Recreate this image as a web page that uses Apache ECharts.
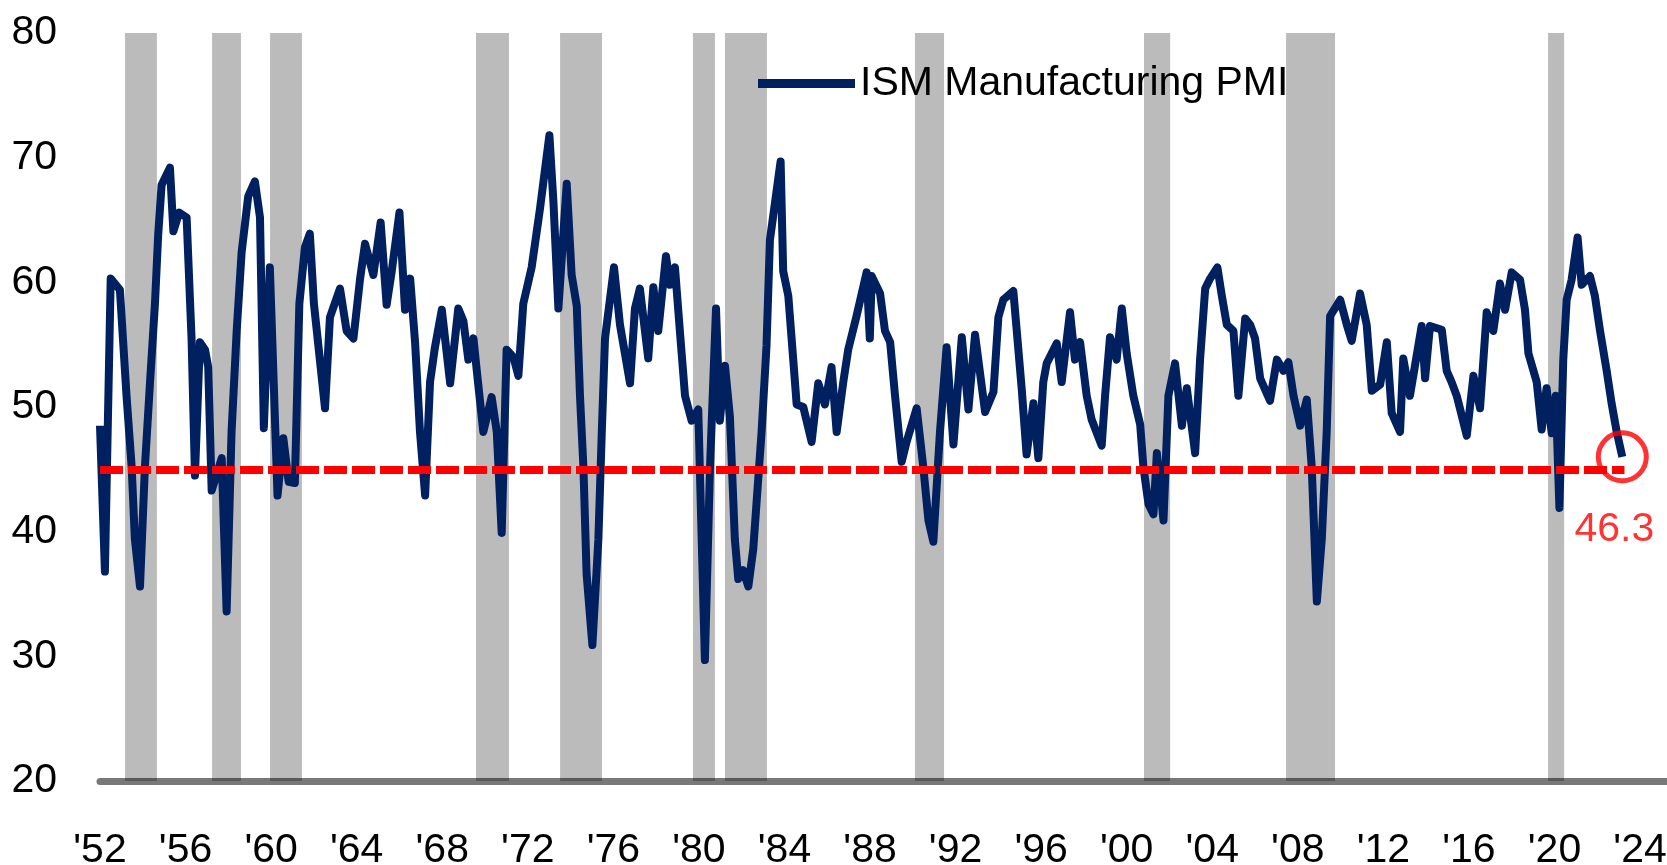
<!DOCTYPE html>
<html>
<head>
<meta charset="utf-8">
<title>ISM Manufacturing PMI</title>
<script src="https://cdn.jsdelivr.net/npm/echarts@6/dist/echarts.min.js"></script>
<style>
  html, body { margin: 0; padding: 0; background: #fff; }
  #main { width: 1667px; height: 865px; }
</style>
</head>
<body>
<div id="main"></div>
<script>
// decimal years
const pmiDates = [
  1952.00, 1952.23, 1952.50, 1952.93, 1953.24, 1953.48, 1953.63, 1953.87, 1954.10, 1954.34,
  1954.57, 1954.72, 1954.88, 1955.27, 1955.43, 1955.70, 1956.05, 1956.28, 1956.44, 1956.67,
  1956.91, 1957.06, 1957.22, 1957.69, 1957.92, 1958.15, 1958.39, 1958.62, 1958.93, 1959.24,
  1959.48, 1959.66, 1959.94, 1960.30, 1960.57, 1960.82, 1961.11, 1961.32, 1961.58, 1961.81,
  1962.00, 1962.52, 1962.75, 1963.22, 1963.53, 1963.85,
  1964.16, 1964.39, 1964.78, 1965.12, 1965.40, 1965.64, 1966.00, 1966.26, 1966.50, 1966.73,
  1966.96, 1967.20, 1967.43, 1967.66, 1967.98, 1968.37, 1968.75, 1968.99, 1969.22, 1969.46,
  1969.61, 1969.92, 1970.31, 1970.55, 1970.78, 1971.01, 1971.33, 1971.56, 1971.79, 1972.18,
  1972.57, 1973.01, 1973.20, 1973.43, 1973.82, 1974.05, 1974.29, 1974.44, 1974.60, 1974.75,
  1975.02, 1975.30, 1975.46, 1975.61, 1976.03,
  1976.31, 1976.78, 1977.01, 1977.24, 1977.63, 1977.87, 1978.10, 1978.46, 1978.65, 1978.88,
  1979.11, 1979.35, 1979.66, 1979.97, 1980.28, 1980.52, 1980.80, 1980.98, 1981.22, 1981.45,
  1981.68, 1981.84, 1982.07, 1982.31, 1982.54, 1982.93, 1983.16, 1983.32, 1983.82, 1983.94,
  1984.18, 1984.41, 1984.57, 1984.88, 1985.27, 1985.58, 1985.89, 1986.20, 1986.44, 1986.75,
  1986.98, 1987.37, 1987.84, 1987.99,
  1988.08, 1988.47, 1988.70, 1988.94, 1989.17, 1989.48, 1989.71, 1990.18, 1990.49, 1990.73,
  1990.96, 1991.27, 1991.58, 1991.90, 1992.29, 1992.60, 1992.91, 1993.38, 1993.77, 1994.00,
  1994.23, 1994.70, 1994.86, 1995.09, 1995.32, 1995.64, 1995.87, 1996.10, 1996.26, 1996.73,
  1996.96, 1997.35, 1997.58, 1997.82, 1998.13, 1998.36, 1998.83, 1998.99, 1999.22, 1999.53,
  1999.77, 2000.00, 2000.31,
  2000.63, 2000.78, 2001.02, 2001.25, 2001.41, 2001.72, 2001.95, 2002.26, 2002.58, 2002.81,
  2003.20, 2003.43, 2003.67, 2003.90, 2004.24, 2004.45, 2004.68, 2004.99, 2005.22, 2005.54,
  2005.77, 2006.00, 2006.24, 2006.70, 2007.02, 2007.33, 2007.56, 2007.80, 2008.11, 2008.42,
  2008.65, 2008.89, 2009.12, 2009.35, 2009.51, 2009.98, 2010.29, 2010.52, 2010.91, 2011.22,
  2011.46, 2011.85, 2012.16, 2012.39,
  2012.78, 2012.93, 2013.24, 2013.79, 2013.95, 2014.18, 2014.73, 2014.96, 2015.19, 2015.43,
  2015.90, 2016.21, 2016.52, 2016.83, 2017.14, 2017.45, 2017.69, 2018.00, 2018.39, 2018.62,
  2018.78, 2019.17, 2019.40, 2019.63, 2019.87, 2020.06, 2020.23, 2020.41, 2020.57, 2020.80,
  2021.08, 2021.27, 2021.66, 2021.89, 2022.13, 2022.44, 2022.67, 2022.91, 2023.17
];

const pmiValues = [
  48.5, 36.8, 60.3, 59.4, 50.9, 45.2, 39.4, 35.6, 45.2, 52.0,
  58.3, 63.8, 67.8, 69.2, 64.1, 65.6, 65.2, 55.5, 44.5, 55.2,
  54.6, 53.2, 43.3, 45.9, 33.6, 48.0, 56.1, 62.4, 66.9, 68.1,
  65.2, 48.3, 61.2, 42.9, 47.5, 44.0, 43.9, 58.3, 62.8, 63.9,
  58.3, 49.9, 57.2, 59.5, 56.1, 55.5,
  60.3, 63.1, 60.6, 64.8, 58.2, 60.9, 65.6, 57.8, 60.3, 55.2,
  48.0, 42.9, 52.0, 54.8, 57.8, 51.9, 57.9, 56.9, 53.8, 55.5,
  53.0, 48.0, 50.8, 48.0, 39.9, 54.6, 54.0, 52.5, 58.3, 61.2,
  65.9, 71.8, 66.4, 57.9, 67.9, 60.6, 58.1, 50.9, 45.2, 36.6,
  30.9, 39.4, 48.0, 55.5, 61.2,
  56.6, 51.9, 57.9, 59.5, 53.9, 59.6, 56.1, 62.1, 59.8, 61.2,
  56.1, 50.9, 48.9, 49.8, 29.7, 45.2, 57.9, 48.9, 53.3, 49.2,
  39.4, 36.2, 36.9, 35.6, 38.6, 48.0, 54.9, 63.4, 69.7, 60.9,
  58.9, 53.8, 50.2, 50.0, 47.2, 51.9, 50.2, 53.2, 48.0, 52.0,
  54.6, 57.3, 60.8, 55.5,
  60.5, 59.1, 56.1, 55.2, 50.9, 45.6, 47.2, 49.9, 45.2, 40.9,
  39.2, 48.0, 54.8, 47.0, 55.6, 49.8, 55.8, 49.6, 51.2, 57.2,
  58.6, 59.3, 56.1, 51.5, 46.2, 50.3, 45.9, 52.0, 53.5, 55.1,
  52.0, 57.6, 53.8, 55.2, 50.9, 49.0, 46.9, 50.9, 55.6, 53.8,
  57.9, 54.3, 50.9,
  48.6, 45.2, 42.2, 41.4, 46.3, 40.9, 50.9, 53.5, 48.5, 51.5,
  46.3, 53.8, 59.5, 60.3, 61.2, 58.9, 56.6, 56.1, 50.9, 57.1,
  56.6, 55.5, 52.3, 50.5, 53.8, 52.9, 53.6, 50.9, 48.5, 50.6,
  45.2, 34.4, 39.4, 48.0, 57.3, 58.6, 56.6, 55.3, 59.1, 56.6,
  51.3, 51.8, 55.2, 49.5,
  48.0, 53.9, 50.9, 56.5, 52.3, 56.5, 56.2, 52.9, 52.0, 50.9,
  47.7, 52.5, 49.9, 57.6, 56.1, 59.9, 57.8, 60.8, 60.2, 57.8,
  54.3, 52.0, 48.2, 51.5, 47.9, 50.9, 41.9, 53.8, 58.6, 60.2,
  63.6, 59.8, 60.5, 58.9, 56.1, 52.9, 50.3, 48.0, 46.0
];

// shaded recessions (decimal years)
const recessionStart = [1953.17, 1957.24, 1959.95, 1969.58, 1973.51, 1979.72, 1981.22, 1990.10, 2000.81, 2007.45, 2019.70];
const recessionEnd   = [1954.66, 1958.59, 1961.44, 1971.12, 1975.47, 1980.75, 1983.18, 1991.46, 2002.03, 2009.74, 2020.45];

const warnLevel = 45;
const lastLabel = '46.3';
const seriesName = 'ISM Manufacturing PMI';

const FONT = '"Liberation Sans", Arial, sans-serif';
const chart = echarts.init(document.getElementById('main'));

const lastIdx = pmiDates.length - 1;

const option = {
  animation: false,
  backgroundColor: '#fff',
  grid: { left: 100, right: 0, top: 33, bottom: 84, outerBoundsMode: 'none' },
  legend: {
    data: [{ name: seriesName, icon: 'rect' }],
    left: 753,
    top: 58,
    itemWidth: 97,
    itemHeight: 9,
    itemStyle: { color: '#002060', borderWidth: 0 },
    textStyle: { fontSize: 41, color: '#000', fontFamily: FONT }
  },
  xAxis: {
    type: 'value',
    min: 1952,
    max: 2025.26,
    interval: 4,
    z: 6,
    axisLine: { show: true, onZero: false, lineStyle: { color: 'rgba(0,0,0,0.53)', width: 7 } },
    axisTick: { show: false },
    splitLine: { show: false },
    axisLabel: {
      margin: 49,
      fontSize: 41,
      color: '#000',
      fontFamily: FONT,
      showMaxLabel: false,
      formatter: v => "'" + String(Math.round(v)).slice(2)
    }
  },
  yAxis: {
    type: 'value',
    min: 20,
    max: 80,
    interval: 10,
    axisLine: { show: false },
    axisTick: { show: false },
    splitLine: { show: false },
    axisLabel: { margin: 43, fontSize: 41, color: '#000', fontFamily: FONT }
  },
  series: [
    {
      name: 'recessions',
      type: 'line',
      data: [],
      z: 1,
      markArea: {
        silent: true,
        itemStyle: { color: '#bbbbbb' },
        data: recessionStart.map((s, i) => [{ xAxis: s }, { xAxis: recessionEnd[i] }])
      }
    },
    {
      name: seriesName,
      type: 'line',
      z: 3,
      showSymbol: false,
      color: '#002060',
      itemStyle: { color: '#002060' },
      lineStyle: { color: '#002060', width: 8, join: 'round' },
      data: pmiDates.map((d, i) => [d, pmiValues[i]])
    },
    {
      name: 'level',
      type: 'line',
      data: [],
      z: 4,
      markLine: {
        silent: true,
        symbol: ['none', 'none'],
        label: { show: false },
        lineStyle: { color: '#ff0000', width: 8, type: [23, 5] },
        data: [[{ coord: [pmiDates[0], warnLevel] }, { coord: [pmiDates[lastIdx] + 0.1, warnLevel] }]]
      }
    },
    {
      name: 'latest',
      type: 'scatter',
      z: 5,
      symbol: 'circle',
      symbolSize: 48,
      itemStyle: { color: 'rgba(0,0,0,0)', borderColor: '#ff0000', borderWidth: 5 },
      label: {
        show: true,
        formatter: lastLabel,
        position: 'bottom',
        distance: 26,
        offset: [-8, 0],
        color: '#ff0000',
        fontSize: 41,
        fontFamily: FONT
      },
      data: [[pmiDates[lastIdx], pmiValues[lastIdx]]]
    }
  ]
};

chart.setOption(option);
window.addEventListener('resize', () => chart.resize());
</script>
</body>
</html>
